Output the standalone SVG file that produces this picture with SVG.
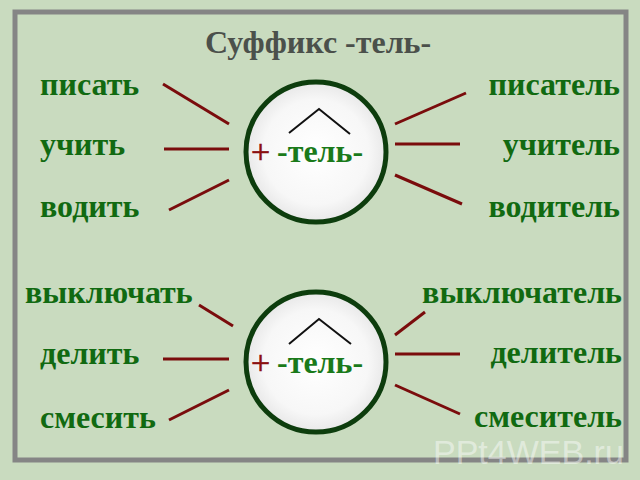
<svg xmlns="http://www.w3.org/2000/svg" width="640" height="480" viewBox="0 0 640 480">
<defs>
<radialGradient id="disc" cx="0.5" cy="0.5" r="0.5">
<stop offset="0" stop-color="#ffffff"/>
<stop offset="0.75" stop-color="#f7f7f7"/>
<stop offset="1" stop-color="#e8e8e8"/>
</radialGradient>
<style>
.w{font-family:"Liberation Serif","Times New Roman",serif;font-weight:bold;font-size:32px;fill:#116a11}
.r{text-anchor:end}
.title{font-family:"Liberation Serif","Times New Roman",serif;font-weight:bold;font-size:32px;fill:#4b504b}
.c{fill:url(#disc);stroke:#0d3d0d;stroke-width:5}
.caret{fill:none;stroke:#111;stroke-width:2}
.plus{font-family:"Liberation Serif","Times New Roman",serif;font-size:34px;fill:#8b0f0f;stroke:#8b0f0f;stroke-width:0.6}
.suf{font-family:"Liberation Serif","Times New Roman",serif;font-weight:bold;font-size:32px;fill:#1a7a1a}
.ln{stroke:#7a0c0c;stroke-width:3;stroke-linecap:butt}
.wm{font-family:"Liberation Sans",Arial,sans-serif;font-size:34px;fill:#ffffff;fill-opacity:0.45}
</style>
</defs>
<rect x="0" y="0" width="640" height="480" fill="#c9dbbf"/>
<rect x="15" y="12" width="611" height="448" fill="#c9dbbf" stroke="#858585" stroke-width="5"/>
<text class="title" x="205" y="53">Суффикс -тель-</text>

<g id="connectors">
<line class="ln" x1="163" y1="84" x2="229" y2="124"/>
<line class="ln" x1="164" y1="149" x2="229" y2="149"/>
<line class="ln" x1="169" y1="210" x2="229" y2="180"/>
<line class="ln" x1="395" y1="124" x2="466" y2="93"/>
<line class="ln" x1="395" y1="144" x2="460" y2="144"/>
<line class="ln" x1="395" y1="175" x2="462" y2="204"/>
<line class="ln" x1="199" y1="305" x2="233" y2="326"/>
<line class="ln" x1="163" y1="359" x2="229" y2="359"/>
<line class="ln" x1="169" y1="420" x2="229" y2="390"/>
<line class="ln" x1="395" y1="335" x2="425" y2="312"/>
<line class="ln" x1="395" y1="354" x2="460" y2="354" stroke-width="4"/>
<line class="ln" x1="395" y1="385" x2="460" y2="414"/>
</g>

<g id="circle-top">
<circle class="c" cx="316" cy="152" r="70"/>
<polyline class="caret" points="289,133 319,109 350,134"/>
<text class="plus" x="251" y="163">+</text>
<text class="suf" x="277" y="162">-тель-</text>
</g>
<g id="circle-bottom">
<circle class="c" cx="316" cy="362" r="70"/>
<polyline class="caret" points="289,344 319,319 351,344"/>
<text class="plus" x="251" y="374">+</text>
<text class="suf" x="277" y="373">-тель-</text>
</g>

<g id="left-words">
<text class="w" x="40" y="95">писать</text>
<text class="w" x="40" y="155">учить</text>
<text class="w" x="40" y="217">водить</text>
<text class="w" x="25" y="303">выключать</text>
<text class="w" x="40" y="364">делить</text>
<text class="w" x="40" y="428">смесить</text>
</g>
<g id="right-words">
<text class="w r" x="620" y="95">писатель</text>
<text class="w r" x="620" y="155">учитель</text>
<text class="w r" x="620" y="217">водитель</text>
<text class="w r" x="622" y="303">выключатель</text>
<text class="w r" x="622" y="363">делитель</text>
<text class="w r" x="622" y="427">смеситель</text>
</g>
<text class="wm" x="433" y="464">PPt4WEB.ru</text>
</svg>
